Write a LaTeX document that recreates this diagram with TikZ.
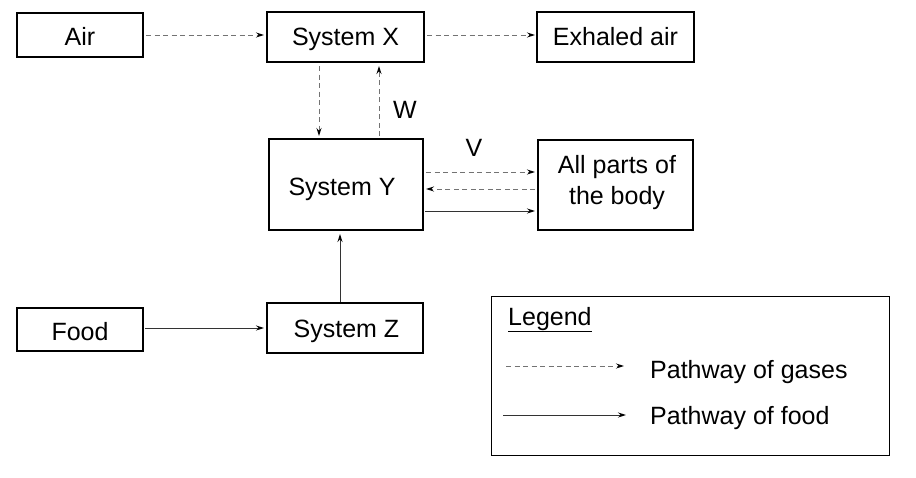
\documentclass[tikz,border=0pt]{standalone}
\usepackage{fontspec}
\setmainfont{Liberation Sans}
\usetikzlibrary{arrows.meta}
\newcommand\boxtxt[2]{\smash{\raisebox{-#1}{#2}}}
\begin{document}
\begin{tikzpicture}[x=1pt,y=-1pt,
  every node/.style={font=\fontsize{25}{31}\selectfont},
  box/.style={draw=black,line width=2pt,inner sep=0pt,align=center},
  gas/.style={draw=black!55,line width=1pt,dash pattern=on 5pt off 3.5pt,-{Stealth[length=8pt,width=5pt,black]}},
  food/.style={draw=black!80,line width=1pt,-{Stealth[length=8pt,width=5pt,black]}}]
\useasboundingbox (0,0) rectangle (916,477);
\node[box,minimum width=126pt,minimum height=44pt] (air) at (80,35) {\boxtxt{10pt}{Air}};
\node[box,minimum width=157pt,minimum height=50pt] (X) at (345.5,37) {\boxtxt{8pt}{System X}};
\node[box,minimum width=157pt,minimum height=50pt] (ex) at (615.5,37) {\boxtxt{8pt}{Exhaled air}};
\node[box,minimum width=154pt,minimum height=91pt] (Y) at (346,184.5) {\hspace*{-8pt}\boxtxt{10.5pt}{System Y}};
\node[box,minimum width=155pt,minimum height=90pt] (body) at (615.5,185) {\hspace*{3pt}\boxtxt{19pt}{\begin{tabular}[b]{@{}c@{}}All parts of\\the body\end{tabular}}};
\node[box,minimum width=126pt,minimum height=43pt] (food) at (80,329.5) {\boxtxt{10.5pt}{Food}};
\node[box,minimum width=156pt,minimum height=50pt] (Z) at (345,328) {\hspace*{3pt}\boxtxt{9pt}{System Z}};
\node[draw=black,line width=1pt,minimum width=398pt,minimum height=159pt,inner sep=0pt] (leg) at (690,375.5) {};
\node[anchor=base west,inner sep=0pt] (legt) at (508,325) {\underline{Legend}};
\node[anchor=west,inner sep=0pt] (lg) at (650,372) {Pathway of gases};
\node[anchor=west,inner sep=0pt] (lf) at (650,418) {Pathway of food};
\node[inner sep=0pt] (W) at (405,110) {W};
\node[inner sep=0pt] (V) at (474,148) {V};
\coordinate (g1) at (506,366);
\coordinate (g2) at (624,366);
\coordinate (f1) at (503,415);
\coordinate (f2) at (626,415);
% gases
\draw[gas] ([xshift=2pt]air.east) -- ([yshift=2pt,xshift=-2pt]X.west);
\draw[gas] ([yshift=2pt,xshift=2pt]X.east) -- ([yshift=2pt,xshift=-1pt]ex.west);
\draw[gas] ([xshift=-26.5pt,yshift=-3pt]X.south) -- ([xshift=-27pt,yshift=2pt]Y.north);
\draw[gas] ([xshift=33pt,yshift=2pt]Y.north) -- ([xshift=33.5pt,yshift=-3pt]X.south);
\draw[gas] ([yshift=12.5pt,xshift=2pt]Y.east) -- ([yshift=13pt,xshift=-2pt]body.west);
\draw[gas] ([yshift=-4pt,xshift=-2pt]body.west) -- ([yshift=-4.5pt,xshift=2pt]Y.east);
% food
\draw[food] ([yshift=-26.5pt,xshift=1pt]Y.east) -- ([yshift=-26pt,xshift=-2pt]body.west);
\draw[food] ([yshift=1.5pt,xshift=1pt]food.east) -- ([xshift=-2pt]Z.west);
\draw[food] ([xshift=-5pt]Z.north) -- ([xshift=-6pt,yshift=-3pt]Y.south);
% legend
\draw[gas] (g1) -- (g2);
\draw[food] (f1) -- (f2);
\end{tikzpicture}
\end{document}
